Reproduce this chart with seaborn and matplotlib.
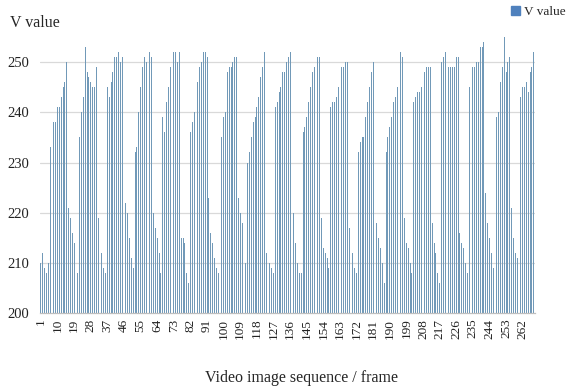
import numpy as np
import pandas as pd
import matplotlib
matplotlib.use("Agg")
import matplotlib.pyplot as plt
import seaborn as sns
from matplotlib.patches import Patch

# V value per frame
c01 = [210, 212, 209, 208, 210, 233, 235, 238, 238, 241, 241, 243, 245, 246, 250, 221, 219, 216, 214, 211, 208]
c02 = [235, 240, 243, 253, 248, 247, 246, 245, 245, 249, 219, 215, 212, 209, 208]
c03 = [245, 243, 246, 248, 251, 251, 252, 250, 251, 251, 222, 220, 215, 211, 209]
c04 = [232, 233, 240, 245, 249, 251, 250, 249, 252, 251, 220, 217, 215, 212, 208]
c05 = [239, 236, 242, 245, 249, 251, 252, 252, 250, 252, 215, 215, 214, 208, 206]
c06 = [236, 238, 240, 243, 246, 249, 250, 252, 252, 251, 223, 216, 214, 211, 209, 208]
c07 = [238, 235, 239, 240, 248, 249, 249, 250, 251, 251, 223, 220, 218, 214, 210]
c08 = [230, 232, 235, 238, 239, 241, 243, 247, 249, 252, 212, 210, 210, 209, 208]
c09 = [241, 242, 244, 245, 248, 248, 250, 251, 252, 251, 220, 214, 210, 208, 208]
c10 = [236, 237, 239, 242, 245, 248, 249, 249, 251, 251, 219, 213, 212, 211, 209]
c11 = [241, 242, 242, 243, 245, 245, 249, 249, 250, 250, 217, 214, 212, 209, 208]
c12 = [232, 234, 235, 235, 239, 242, 245, 248, 250, 249, 218, 215, 213, 210, 206]
c13 = [232, 235, 237, 239, 242, 243, 245, 248, 252, 251, 219, 214, 213, 210, 208]
c14 = [242, 243, 244, 244, 245, 247, 248, 249, 249, 249, 218, 214, 212, 208, 206]
c15 = [250, 251, 252, 252, 249, 249, 249, 249, 251, 251, 216, 214, 213, 210, 208]
c16 = [245, 246, 249, 249, 250, 250, 253, 253, 254, 224, 218, 215, 212, 209]
c17 = [235, 239, 240, 246, 249, 255, 248, 250, 251, 221, 215, 212, 211, 209]
c18 = [243, 245, 245, 246, 244, 248, 249, 252]

v_value = (c01 + c02 + c03 + c04 + c05 + c06 + c07 + c08 + c09 + c10 + c11
           + c12 + c13 + c14 + c15 + c16 + c17 + c18)
frames = [str(i + 1) for i in range(len(v_value))]

df = pd.DataFrame({"frame": frames, "V value": v_value})

sns.set_theme(style="white")
plt.rcParams["font.family"] = ["Liberation Serif", "DejaVu Serif"]

fig = plt.figure(figsize=(5.68, 3.9), dpi=100)
ax = fig.add_axes([0.0704, 0.197, 0.871, 0.721])

sns.barplot(data=df, x="frame", y="V value", color="#7199b8", width=0.5,
            linewidth=0, saturation=1, ax=ax)

ax.set_ylim(200, 256)
ax.set_xlim(-0.5, len(v_value) - 0.5)
ax.set_yticks(range(200, 251, 10))
ax.tick_params(axis="y", labelsize=10.5, length=0, pad=8, colors="#222222")
ax.set_xticks(range(0, len(v_value), 9))
ax.set_xticklabels(frames[::9], rotation=90, fontsize=9.5, color="#222222")
ax.tick_params(axis="x", length=0, pad=4)

for yv in range(210, 251, 10):
    ax.axhline(yv, color="#d9d9d9", linewidth=0.9, zorder=0)
ax.set_axisbelow(True)

for s in ["top", "right", "left"]:
    ax.spines[s].set_visible(False)
ax.spines["bottom"].set_color("#bfbfbf")
ax.spines["bottom"].set_linewidth(0.9)

ax.set_xlabel("")
ax.set_ylabel("")
fig.text(0.018, 0.94, "V value", fontsize=11.5, ha="left", va="center")
fig.text(0.53, 0.03, "Video image sequence / frame", fontsize=11.5, ha="center", va="center")

handle = [Patch(facecolor="#4f81bd", edgecolor="#4f81bd", label="V value")]
fig.legend(handles=handle, loc="upper right", bbox_to_anchor=(1.012, 1.008), frameon=False,
           fontsize=9.5, handlelength=0.7, handleheight=0.7, handletextpad=0.3,
           borderaxespad=0.3)

fig.savefig("out.png", dpi=100)
